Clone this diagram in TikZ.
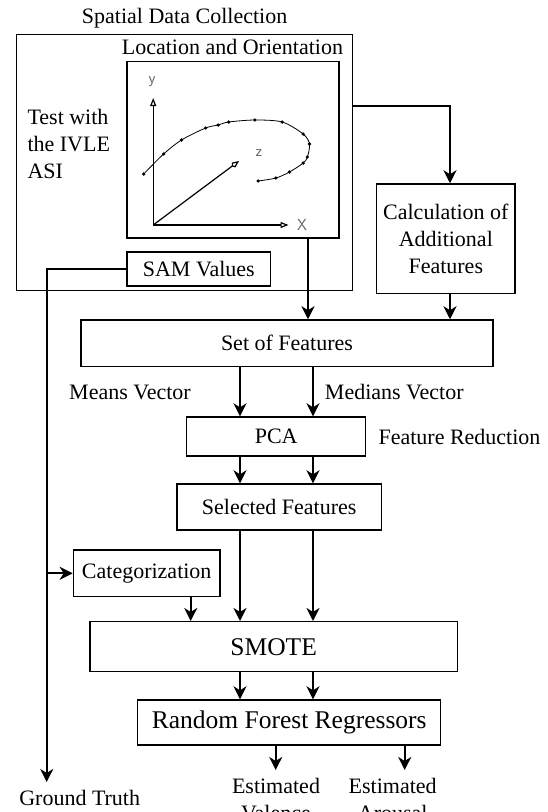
\documentclass[tikz,border=0pt]{standalone}
\usepackage{fontspec}
\setmainfont{Liberation Serif}
\usetikzlibrary{arrows.meta}

\begin{document}
\begin{tikzpicture}[x=1pt,y=-1pt,
  font=\fontsize{22}{27}\selectfont,
  box/.style={draw, line width=1.4pt, inner sep=0pt, align=center},
  big/.style={font=\fontsize{25.5}{30}\selectfont},
  txt/.style={inner sep=0pt, align=center},
  arr/.style={line width=2.2pt, -{Stealth[length=13pt,width=13pt,inset=4pt]}},
  ax/.style={line width=1.2pt, -{Triangle[open,length=8pt,width=6pt]}},
  axlbl/.style={text=black!60, inner sep=0pt, font=\sffamily\fontsize{16}{16}\selectfont}]
\useasboundingbox (0,0) rectangle (548,812);
%\draw[help lines] (0,0) grid[step=50] (548,812);

% spatial data collection
\node[txt] (title) at (184.6,18) {Spatial Data Collection};
\node[box, minimum width=336pt, minimum height=256pt] (sdc) at (184.7,162.7) {};
\node[txt] (loc) at (232.4,47) {Location and Orientation};
\node[box, minimum width=212pt, minimum height=176.5pt] (plot) at (233,149.8) {};
\node[txt, anchor=north west, align=left] (test) at (27.3,109) {Test with\\the IVLE\\ASI};
\node[box, minimum width=143.6pt, minimum height=34pt] (sam) at (198.8,269) {SAM Values};

% trajectory sketch
\coordinate (o) at (153.2,225);
\draw[ax] (o) -- (153.2,98);
\draw[ax] (o) -- (288.5,225);
\draw[line width=1.2pt, -{Kite[open,length=9pt,width=6pt]}] (o) -- (239,161);
\node[axlbl] (ly) at (152,82) {y};
\node[axlbl] (lx) at (302,225) {X};
\node[axlbl] (lz) at (259,153) {z};
\draw[line width=0.8pt] plot[smooth] coordinates {(143.7,174) (163.6,154) (181.5,140) (205.6,128) (218.2,125)
  (228.7,122) (254.9,120) (282.2,122) (303.2,134) (309.5,144) (307.4,157) (303.2,163) (289.5,172) (275.9,178) (258.1,181)};
\foreach \px/\py in {143.7/174,163.6/154,181.5/140,205.6/128,218.2/125,228.7/122,254.9/120,282.2/122,
  303.2/134,309.5/144,307.4/157,303.2/163,289.5/172,275.9/178,258.1/181}
  \fill (\px,\py) circle (1.8pt);

% processing chain
\node[box, minimum width=138.3pt, minimum height=109.3pt] (calc) at (445.8,238.6) {Calculation of\\Additional\\Features};
\node[box, minimum width=412pt, minimum height=46.7pt] (sof) at (287,343.3) {Set of Features};
\node[txt] (mean) at (130,392) {Means Vector};
\node[txt] (median) at (394.3,392) {Medians Vector};
\node[box, minimum width=179pt, minimum height=39pt] (pca) at (276.2,436.5) {PCA};
\node[txt] (red) at (459.5,436.5) {Feature Reduction};
\node[box, minimum width=204.3pt, minimum height=46pt] (self) at (279.2,507) {Selected Features};
\node[box, minimum width=146.7pt, minimum height=46.7pt] (cat) at (146.7,573.3) {Categorization};
\node[box, big, minimum width=367.3pt, minimum height=50pt] (smote) at (273.7,646.7) {SMOTE};
\node[box, big, minimum width=303pt, minimum height=45pt] (rfr) at (289.2,722.5) {Random Forest Regressors};
\node[txt, anchor=north] (gt) at (79.7,790) {Ground Truth};
\node[txt, anchor=north] (ev) at (276,778) {Estimated\\Valence};
\node[txt, anchor=north] (ea) at (392.7,778) {Estimated\\Arousal};

% connectors
\coordinate (cl) at (240,0);
\coordinate (cr) at (313,0);
\coordinate (cp) at (308,0);
\coordinate (cc) at (190.7,0);
\coordinate (cg) at (46.7,0);
\coordinate (ca) at (450,106);
\coordinate (gtend) at (46.7,782);
\coordinate (vend) at (275.7,770);
\coordinate (aend) at (404.7,770);
\draw[arr] (cp |- plot.south) -- (cp |- sof.north);
\draw[arr] (sdc.east |- ca) -- (ca) -- (ca |- calc.north);
\draw[arr] (ca |- calc.south) -- (ca |- sof.north);
\foreach \c in {cl,cr} {
  \draw[arr] (\c |- sof.south) -- (\c |- pca.north);
  \draw[arr] (\c |- pca.south) -- (\c |- self.north);
  \draw[arr] (\c |- self.south) -- (\c |- smote.north);
  \draw[arr] (\c |- smote.south) -- (\c |- rfr.north);
}
\draw[arr] (cc |- cat.south) -- (cc |- smote.north);
\draw[arr] (sam.west) -- (cg |- sam.west) -- (gtend);
\draw[arr] (cg |- cat.west) -- (cat.west);
\draw[arr] (vend |- rfr.south) -- (vend);
\draw[arr] (aend |- rfr.south) -- (aend);
\end{tikzpicture}
\end{document}
